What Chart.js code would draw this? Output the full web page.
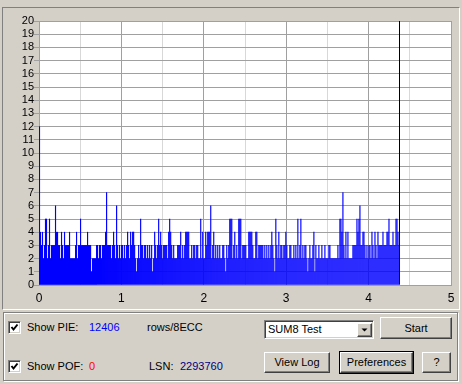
<!DOCTYPE html>
<html>
<head>
<meta charset="utf-8">
<script src="https://cdn.jsdelivr.net/npm/chart.js@4.4.1/dist/chart.umd.min.js"></script>
<style>
body{margin:0;background:#d4d0c8;font-family:"Liberation Sans",Arial,sans-serif;font-size:11px;color:#000;}
#wrap{position:relative;width:462px;height:384px;overflow:hidden;}
#graphPanel{position:absolute;left:2px;top:7px;width:456px;height:301px;border-top:1px solid #808080;border-left:1px solid #808080;border-right:1px solid #fff;border-bottom:1px solid #fff;}
#pieChart{position:absolute;left:0;top:0;}
#ctrlPanel{position:absolute;left:3px;top:312px;width:453px;height:67px;border:1px solid #808080;box-shadow:1px 1px 0 #fff, inset 1px 1px 0 #fff;}
.lbl{position:absolute;white-space:nowrap;line-height:13px;}
.chk{position:absolute;width:11px;height:11px;background:#fff;border:1px solid;border-color:#808080 #fff #fff #808080;box-shadow:inset 1px 1px 0 #404040, inset -1px -1px 0 #d4d0c8;}
.chk svg{position:absolute;left:1px;top:1px;}
.btn{position:absolute;box-sizing:border-box;background:#d4d0c8;border:1px solid;border-color:#fff #404040 #404040 #fff;box-shadow:inset -1px -1px 0 #808080;text-align:center;}
.combo{position:absolute;box-sizing:border-box;background:#fff;border:1px solid;border-color:#808080 #fff #fff #808080;box-shadow:inset 1px 1px 0 #404040, inset -1px -1px 0 #d4d0c8;}
</style>
</head>
<body>
<div id="wrap">
 <div id="graphPanel"></div>
 <canvas id="pieChart" width="462" height="310"></canvas>
 <div id="ctrlPanel"></div>

 <div class="chk" style="left:8px;top:321px;"><svg width="9" height="9"><polyline points="1.5,4 3.5,6.5 7.5,1.5" fill="none" stroke="#000" stroke-width="2"/></svg></div>
 <div class="lbl" style="left:27px;top:321px;">Show PIE:</div>
 <div class="lbl" id="pieTotal" style="left:89px;top:321px;color:#0000ff;"></div>
 <div class="lbl" style="left:147px;top:321px;">rows/8ECC</div>

 <div class="chk" style="left:8px;top:360px;"><svg width="9" height="9"><polyline points="1.5,4 3.5,6.5 7.5,1.5" fill="none" stroke="#000" stroke-width="2"/></svg></div>
 <div class="lbl" style="left:27px;top:360px;">Show POF:</div>
 <div class="lbl" id="pofTotal" style="left:89px;top:360px;color:#ff0000;"></div>
 <div class="lbl" style="left:149px;top:360px;">LSN:</div>
 <div class="lbl" id="lsn" style="left:180px;top:360px;color:#000080;"></div>

 <div class="combo" style="left:264px;top:320px;width:110px;height:19px;">
  <div class="lbl" style="left:3px;top:2px;">SUM8 Test</div>
  <div class="btn" style="left:92px;top:2px;width:15px;height:14px;">
   <svg width="13" height="12" style="position:absolute;left:0;top:0;"><polygon points="3.5,4.5 9.5,4.5 6.5,7.5" fill="#000"/></svg>
  </div>
 </div>
 <div class="btn" style="left:380px;top:317px;width:72px;height:22px;line-height:20px;">Start</div>
 <div class="btn" style="left:264px;top:352px;width:66px;height:21px;line-height:19px;">View Log</div>
 <div style="position:absolute;left:339px;top:351px;width:75px;height:23px;box-sizing:border-box;border:1px solid #000;">
  <div class="btn" style="left:0;top:0;width:73px;height:21px;line-height:19px;">Preferences</div>
 </div>
 <div class="btn" style="left:422px;top:352px;width:29px;height:21px;line-height:19px;">?</div>
</div>

<script>
const pieValues = [
 12,4,3,4,2,3,5,5,2,3,5,2,3,3,3,3,6,4,4,3,
 3,2,4,3,2,4,3,3,3,3,4,2,2,2,2,2,3,4,2,3,
 3,5,3,3,3,3,3,3,4,3,3,3,1,2,2,2,2,3,3,2,
 3,3,2,3,3,3,4,7,3,3,3,3,2,3,4,3,2,6,3,2,
 3,2,3,3,2,3,2,3,4,3,2,4,3,4,4,3,2,1,2,3,
 2,5,3,3,2,3,3,2,3,2,3,2,3,1,2,4,3,2,3,5,
 3,4,3,2,3,3,3,3,2,4,5,4,3,2,3,2,2,2,3,3,
 3,4,2,3,2,3,4,4,4,4,2,2,3,2,3,3,2,3,3,2,
 2,5,2,4,2,2,4,3,4,4,4,6,2,3,4,2,3,2,3,2,
 3,2,2,3,3,2,1,3,2,3,5,5,5,2,3,4,2,3,2,5,
 5,5,2,3,3,3,3,2,2,4,4,4,4,3,2,2,4,4,2,3,
 3,3,3,3,2,3,2,3,2,3,2,3,4,3,2,1,5,3,2,4,
 2,3,3,2,3,3,4,3,2,2,3,3,2,2,3,2,3,2,5,2,
 3,5,2,3,2,3,3,2,1,2,3,2,2,3,4,1,3,2,2,3,
 2,2,3,2,2,3,2,2,2,3,3,2,2,2,2,2,2,2,3,2,
 5,5,4,7,3,2,4,2,4,2,2,2,2,3,3,3,3,5,4,5,
 6,3,3,4,4,3,2,3,2,3,3,2,4,3,2,4,3,2,4,3,
 3,3,3,4,3,3,3,4,4,5,3,3,3,4,3,3,5,5,4,3
];
const scanEndGB = 4.375;
const xTicks = [0, 1, 2, 3, 4, 5];
const yMax = 20;

const pieTotal = 12406;
const pofTotal = 0;
const lastLSN = 2293760;

// white plot background
const plotBg = {
 id: 'plotBg',
 beforeDraw(chart){
  const a = chart.chartArea;
  chart.ctx.save();
  chart.ctx.fillStyle = '#ffffff';
  chart.ctx.fillRect(a.left, a.top, a.right - a.left, a.bottom - a.top);
  chart.ctx.restore();
 }
};

window.onload = function(){

document.getElementById("pieTotal").innerText = pieTotal;
document.getElementById("pofTotal").innerText = pofTotal;
document.getElementById("lsn").innerText = lastLSN;

// each sample sits in the middle of its slice of the scan
const step = scanEndGB / pieValues.length;
const pieData = pieValues.map((v, i) => ({ x: (i + 0.5) * step, y: v }));

const ctx = document.getElementById('pieChart').getContext('2d');
new Chart(ctx, {
 type: 'bar',
 data: {
  datasets: [{
   label: 'PIE',
   data: pieData,
   backgroundColor: '#0000ff',
   borderWidth: 0,
   categoryPercentage: 1,
   barPercentage: 1,
   grouped: false
  }, {
   label: 'End',
   data: [{ x: scanEndGB, y: yMax }],
   backgroundColor: '#000000',
   borderWidth: 0,
   barThickness: 1,
   inflateAmount: 0,
   grouped: false
  }]
 },
 options: {
  responsive: false,
  animation: false,
  layout: { padding: { top: 21, right: 11, left: 0, bottom: 0 } },
  plugins: {
   legend: { display: false },
   tooltip: { enabled: false }
  },
  scales: {
   x: {
    type: 'linear',
    min: xTicks[0],
    max: xTicks[xTicks.length - 1],
    offset: false,
    grid: {
     offset: false,
     drawTicks: false,
     color: c => (c.tick && Number.isInteger(c.tick.value)) ? '#a0a0a0' : '#d8d8d8'
    },
    border: { color: '#a0a0a0' },
    ticks: {
     stepSize: 0.5,
     autoSkip: false,
     maxRotation: 0,
     padding: 6,
     color: '#000',
     font: { family: 'Liberation Sans', size: 12 },
     callback: v => xTicks.includes(v) ? v : ''
    },
    afterFit: s => { s.height = 25; }
   },
   y: {
    min: 0,
    max: yMax,
    grid: { color: '#a0a0a0', tickLength: 5 },
    border: { color: '#a0a0a0' },
    ticks: {
     stepSize: 1,
     autoSkip: false,
     padding: 0,
     color: '#000',
     font: { family: 'Liberation Sans', size: 11 }
    },
    afterFit: s => { s.width = 39; }
   }
  }
 },
 plugins: [plotBg]
});

}
</script>
</body>
</html>
